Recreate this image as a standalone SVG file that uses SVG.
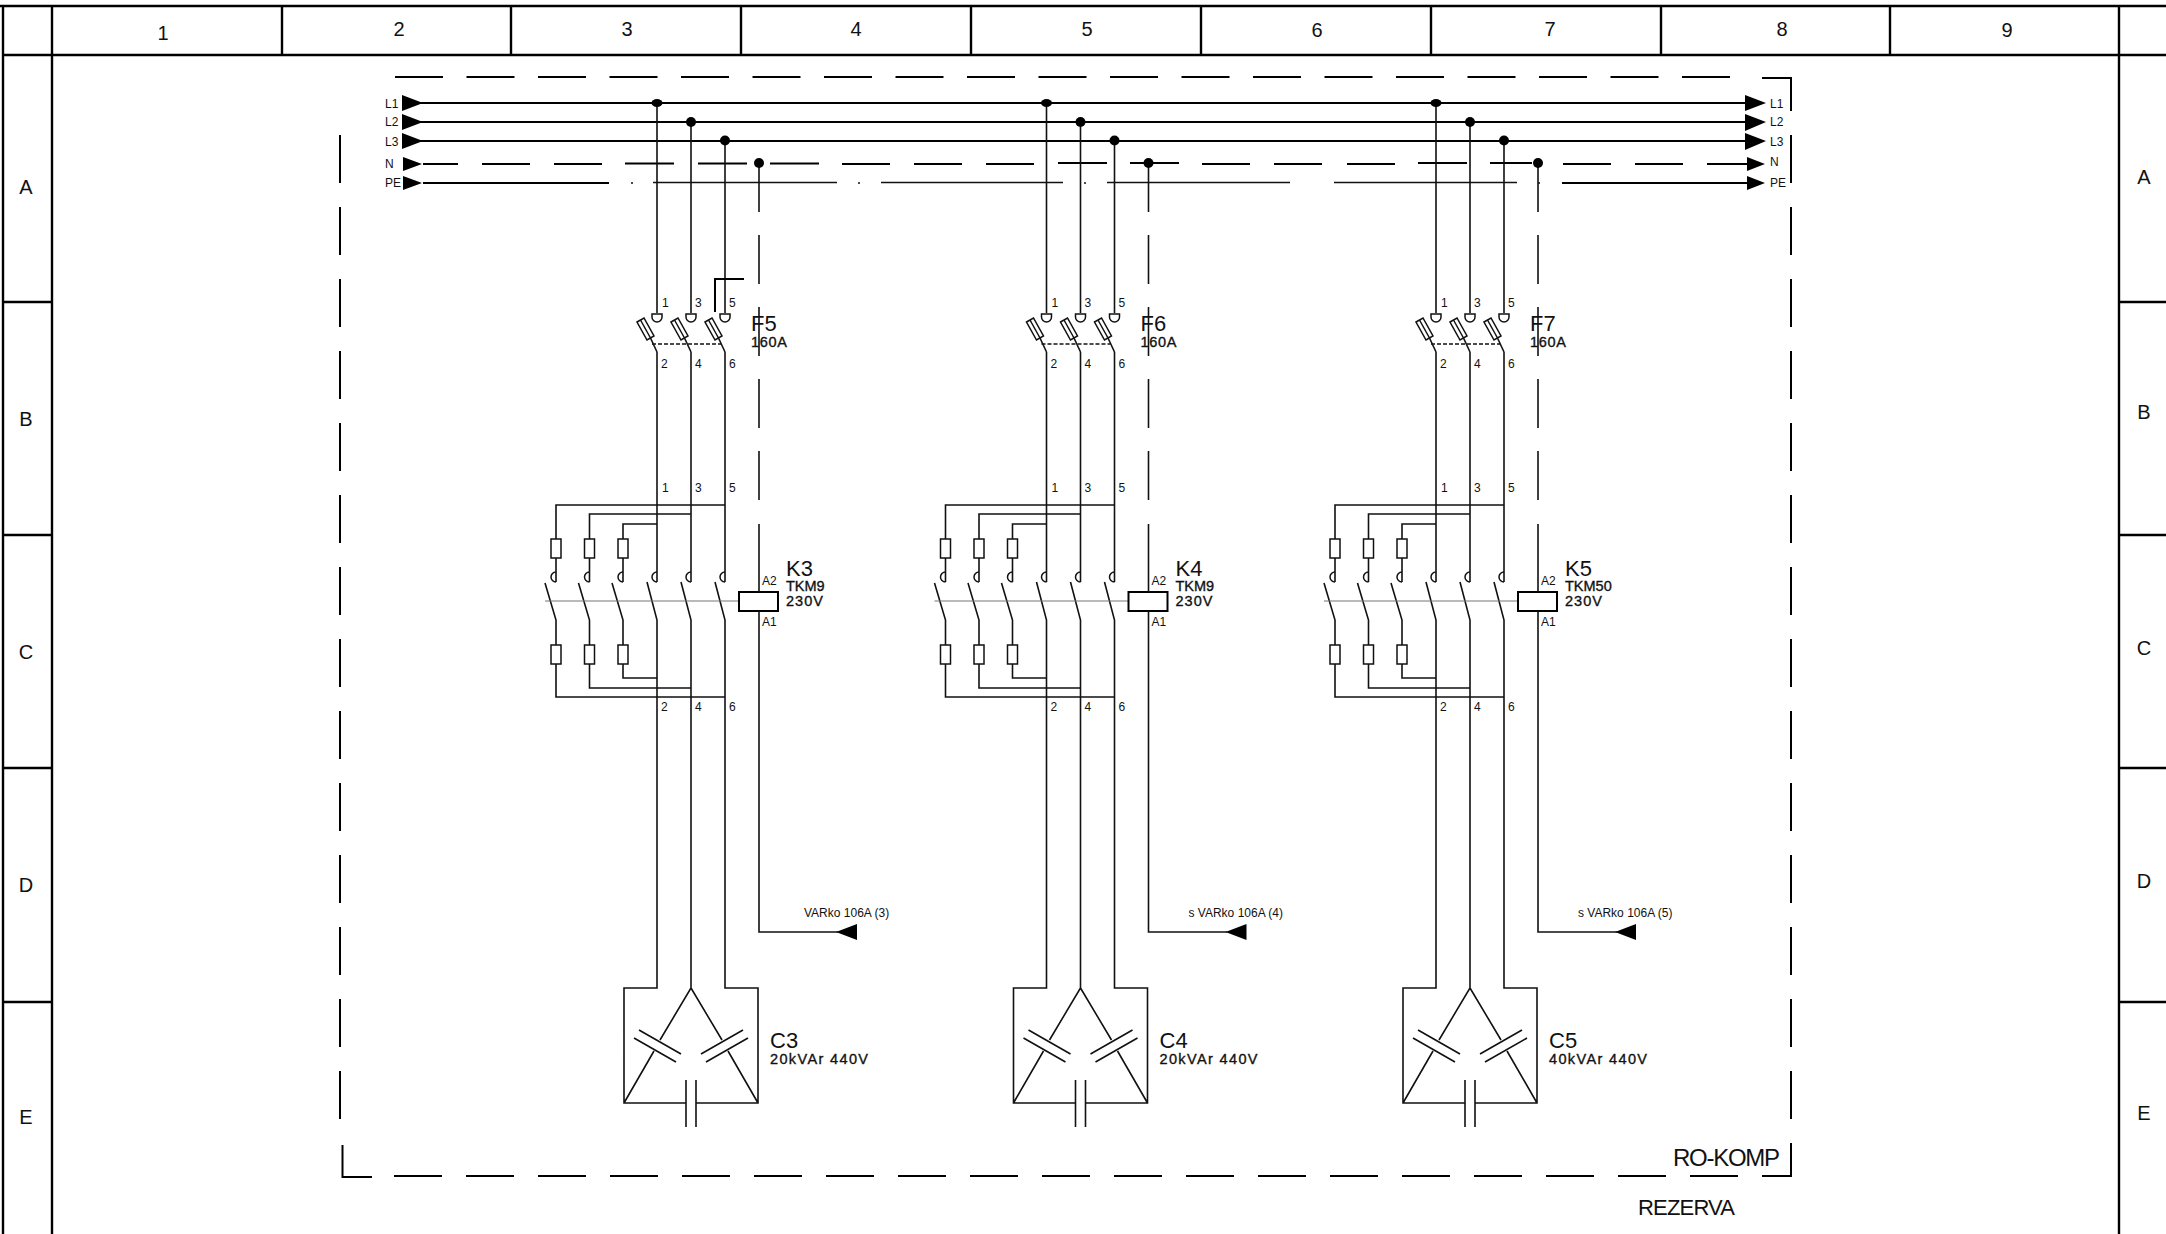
<svg xmlns="http://www.w3.org/2000/svg" xmlns:xlink="http://www.w3.org/1999/xlink" width="2166" height="1234" viewBox="0 0 2166 1234">
<style>
text{font-family:"Liberation Sans",Arial,sans-serif;fill:#111}
.f{stroke:#000;stroke-width:2.4;fill:none}
.b{stroke:#000;stroke-width:2;fill:none}
.w{stroke:#111;stroke-width:1.6;fill:none}
.t{stroke:#111;stroke-width:1.5;fill:none}
.m{stroke:#777;stroke-width:1.2;fill:none}
.d{stroke:#000;stroke-width:2;fill:none;stroke-dasharray:48 24}
.a{fill:#000;stroke:none}
.h{font-size:20px;text-anchor:middle}
.n{font-size:12px}
.s{font-size:14.5px;stroke:#111;stroke-width:.35}
.l{font-size:22px}
.p{font-size:12px}
</style>
<defs>
<g id="fuse"><path class="t" d="M637 322L644 318L654 336L647 340Z"/><path class="t" d="M640.500 320L650.500 338"/><path class="w" d="M650.500 338L657 352"/><path class="t" d="M652 314h10v3a5 5 0 0 1-10 0z"/></g>
<g id="pole"><path class="w" d="M657 352V582"/><path class="t" d="M657 572A5 5 0 0 0 657 582"/><path class="w" d="M647 582L657 620V700"/></g>
<g id="aux"><path class="t" d="M556 572A5 5 0 0 0 556 582"/><path class="w" d="M556 558V582M545 583L556 620V645"/><rect class="t" x="551" y="539" width="10" height="19"/><rect class="t" x="551" y="645" width="10" height="19"/></g>
<g id="shapes">
<path class="w" d="M657 103V313M691 122V313M725 141V313"/>
<use xlink:href="#fuse"/><use xlink:href="#fuse" x="34"/><use xlink:href="#fuse" x="68"/>
<path class="t" stroke-dasharray="4 2" d="M652 344H721"/>
<use xlink:href="#pole"/><use xlink:href="#pole" x="34"/><use xlink:href="#pole" x="68"/>
<use xlink:href="#aux"/><use xlink:href="#aux" x="33.500"/><use xlink:href="#aux" x="67"/>
<path class="w" d="M556 539V505H725M589.500 539V514H691M623 539V524H657M556 664V697H725M589.500 664V688H691M623 664V678H657"/>
<path class="m" d="M545 601H739"/>
<rect class="b" x="739" y="592" width="39" height="19"/>
<path class="w" d="M759 163V212M759 235V284M759 307V356M759 379V428M759 451V500M759 524V592M759 611V932H838"/>
<path class="a" d="M836 932L857 924V940Z"/>
<path class="w" d="M657 700V988H624V1103H686M725 700V988H758V1103H696M691 700V988L660 1040M691 988L722 1040M654 1051L624 1103M728 1051L758 1103"/>
<path class="w" d="M639 1030L681 1054M634 1038L676 1062M743 1030L701 1054M748 1038L706 1062M686 1080V1127M696 1080V1127"/>
<ellipse class="a" cx="657" cy="103" rx="5.500" ry="4"/><circle class="a" cx="691" cy="122" r="5"/><circle class="a" cx="725" cy="140.500" r="5"/><circle class="a" cx="759" cy="163" r="5"/>
</g>
</defs>
<g id="frame">
<path class="f" d="M0 6H2166M3 55H2166M3 6V1234M52 6V1234M2119 6V1234M282 6V55M511 6V55M741 6V55M971 6V55M1201 6V55M1431 6V55M1661 6V55M1890 6V55M3 302H52M3 535H52M3 768H52M3 1002H52M2119 302H2166M2119 535H2166M2119 768H2166M2119 1002H2166"/>
<text class="h" x="163" y="40">1</text><text class="h" x="399" y="36">2</text><text class="h" x="627" y="36">3</text><text class="h" x="856" y="36">4</text><text class="h" x="1087" y="36">5</text><text class="h" x="1317" y="37">6</text><text class="h" x="1550" y="36">7</text><text class="h" x="1782" y="36">8</text><text class="h" x="2007" y="37">9</text>
<text class="h" x="26" y="194">A</text><text class="h" x="26" y="426">B</text><text class="h" x="26" y="659">C</text><text class="h" x="26" y="892">D</text><text class="h" x="26" y="1124">E</text>
<text class="h" x="2144" y="184">A</text><text class="h" x="2144" y="419">B</text><text class="h" x="2144" y="655">C</text><text class="h" x="2144" y="888">D</text><text class="h" x="2144" y="1120">E</text>
</g>
<g id="enclosure">
<path class="b" style="stroke-dasharray:48 23.5" d="M395 77H1730"/>
<path class="b" d="M1762 78H1791V111"/>
<path class="d" d="M1791 135V1119"/>
<path class="b" d="M1791 1143V1176H1762"/>
<path class="d" d="M1738 1176H393"/>
<path class="b" d="M372 1177H342.500V1145"/>
<path class="d" d="M340 135V1119"/>
<text x="1673" y="1166" font-size="24" textLength="107">RO-KOMP</text>
<text x="1638" y="1215" font-size="22" textLength="97">REZERVA</text>
</g>
<g id="busbars">
<path class="b" d="M420 103H1748M420 122H1748M420 141H1748"/>
<path class="b" d="M423 164H458M482 164H530M554 164H602M625 163.500H674M698 163.500H747M770 163.500H819M842 164H890M914 164H962M986 164H1034M1058 163H1107M1130 163H1179M1202 164H1250M1274 164H1322M1347 164H1395M1418 163H1467M1490 163H1532M1563 164H1611M1635 164H1683M1707 164H1748"/>
<path class="b" d="M423 183H609M1562 183H1748"/>
<path class="t" d="M653 182.500H837M881 182.500H1063M1107 182.500H1290M1334 182.500H1517"/>
<path class="t" d="M631 183h2M858 183h2M1084 183h2M1538 183h2"/>
<path class="a" d="M402 95L423 103L402 111ZM402 114L423 122L402 130ZM402 133L423 141L402 149ZM403 157L422 164L403 171ZM403 176L422 183L403 190Z"/>
<path class="a" d="M1745 95L1766 103L1745 111ZM1745 114L1766 122L1745 131ZM1745 133L1766 141L1745 150ZM1747 157L1765 164L1747 171ZM1747 176L1765 183L1747 190Z"/>
<g class="n"><text x="385" y="108">L1</text><text x="385" y="126">L2</text><text x="385" y="146">L3</text><text x="385" y="168">N</text><text x="385" y="187">PE</text><text x="1770" y="108">L1</text><text x="1770" y="126">L2</text><text x="1770" y="146">L3</text><text x="1770" y="166">N</text><text x="1770" y="187">PE</text></g>
</g>
<g id="branch-1">
<use xlink:href="#shapes"/>
<path class="b" d="M715 312V279H744"/>
<g class="n"><text x="662" y="307">1</text><text x="695" y="307">3</text><text x="729" y="307">5</text><text x="661" y="368">2</text><text x="695" y="368">4</text><text x="729" y="368">6</text><text x="662" y="492">1</text><text x="695" y="492">3</text><text x="729" y="492">5</text><text x="661" y="711">2</text><text x="695" y="711">4</text><text x="729" y="711">6</text><text x="762" y="585">A2</text><text x="762" y="626">A1</text></g>
<text class="l" x="751" y="331">F5</text><text class="s" x="751" y="347" textLength="36">160A</text>
<text class="l" x="786" y="576">K3</text><text class="s" x="786" y="591">TKM9</text><text class="s" x="786" y="606" textLength="37">230V</text>
<text class="p" x="804" y="917">VARko 106A (3)</text>
<text class="l" x="770" y="1048">C3</text><text class="s" x="770" y="1064" textLength="98">20kVAr 440V</text>
</g>
<g id="branch-2" transform="translate(389.500 0)">
<use xlink:href="#shapes"/>
<g class="n"><text x="662" y="307">1</text><text x="695" y="307">3</text><text x="729" y="307">5</text><text x="661" y="368">2</text><text x="695" y="368">4</text><text x="729" y="368">6</text><text x="662" y="492">1</text><text x="695" y="492">3</text><text x="729" y="492">5</text><text x="661" y="711">2</text><text x="695" y="711">4</text><text x="729" y="711">6</text><text x="762" y="585">A2</text><text x="762" y="626">A1</text></g>
<text class="l" x="751" y="331">F6</text><text class="s" x="751" y="347" textLength="36">160A</text>
<text class="l" x="786" y="576">K4</text><text class="s" x="786" y="591">TKM9</text><text class="s" x="786" y="606" textLength="37">230V</text>
<text class="p" x="799" y="917">s VARko 106A (4)</text>
<text class="l" x="770" y="1048">C4</text><text class="s" x="770" y="1064" textLength="98">20kVAr 440V</text>
</g>
<g id="branch-3" transform="translate(779 0)">
<use xlink:href="#shapes"/>
<g class="n"><text x="662" y="307">1</text><text x="695" y="307">3</text><text x="729" y="307">5</text><text x="661" y="368">2</text><text x="695" y="368">4</text><text x="729" y="368">6</text><text x="662" y="492">1</text><text x="695" y="492">3</text><text x="729" y="492">5</text><text x="661" y="711">2</text><text x="695" y="711">4</text><text x="729" y="711">6</text><text x="762" y="585">A2</text><text x="762" y="626">A1</text></g>
<text class="l" x="751" y="331">F7</text><text class="s" x="751" y="347" textLength="36">160A</text>
<text class="l" x="786" y="576">K5</text><text class="s" x="786" y="591">TKM50</text><text class="s" x="786" y="606" textLength="37">230V</text>
<text class="p" x="799" y="917">s VARko 106A (5)</text>
<text class="l" x="770" y="1048">C5</text><text class="s" x="770" y="1064" textLength="98">40kVAr 440V</text>
</g>
</svg>
